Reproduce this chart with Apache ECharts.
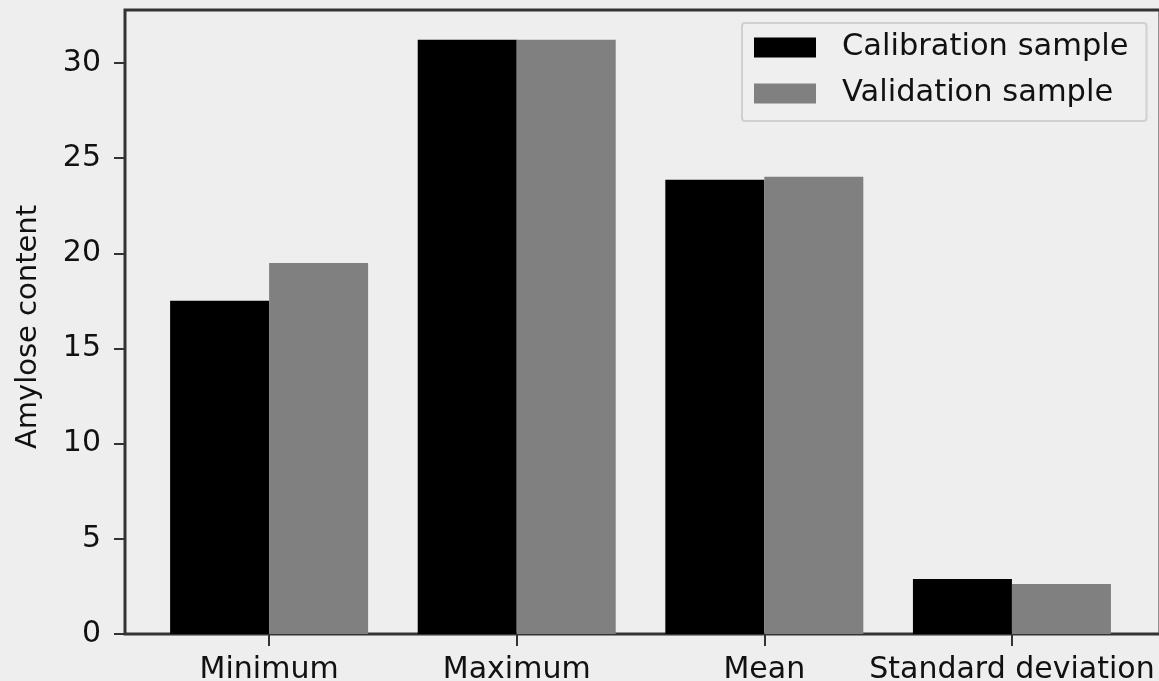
<!DOCTYPE html>
<html>
<head>
<meta charset="utf-8">
<script src="https://cdn.jsdelivr.net/npm/echarts@6/dist/echarts.min.js"></script>
<style>
html,body{margin:0;padding:0;background:#eeeeee;}
#chart{width:1159px;height:681px;}
</style>
</head>
<body>
<div id="chart"></div>
<script>
const categories = ['Minimum', 'Maximum', 'Mean', 'Standard deviation'];
const calibration = [17.51, 31.23, 23.87, 2.89];
const validation = [19.50, 31.23, 24.03, 2.63];
const seriesNames = ['Calibration sample', 'Validation sample'];
const yTicks = [0, 5, 10, 15, 20, 25, 30];
const yAxisName = 'Amylose content';

const catIdx = categories.map((c, i) => i);
const font = 'DejaVu Sans';
const chart = echarts.init(document.getElementById('chart'), null, {renderer: 'canvas'});
chart.setOption({
  backgroundColor: '#eeeeee',
  animation: false,
  textStyle: {fontFamily: font},
  grid: {left: 125, top: 10, width: 1035, bottom: 47, show: true, borderColor: '#333333', borderWidth: 3,
         backgroundColor: 'transparent', containLabel: false, outerBoundsMode: 'none'},
  legend: {
    left: 742, top: 23, orient: 'vertical',
    data: seriesNames,
    icon: 'rect', itemWidth: 62, itemHeight: 20, itemGap: 15,
    padding: [9, 18, 12, 12],
    backgroundColor: '#efefef', borderColor: '#d0d0d0', borderWidth: 2, borderRadius: 3,
    textStyle: {fontFamily: font, fontSize: 30.5, color: '#111', lineHeight: 30, padding: [0, 0, 0, 21]}
  },
  xAxis: {
    type: 'value', min: -0.582, max: 3.598,
    splitLine: {show: false},
    axisLine: {show: false, onZero: false},
    axisTick: {show: true, length: 12, customValues: catIdx, lineStyle: {color: '#333', width: 2}},
    axisLabel: {customValues: catIdx, formatter: v => categories[Math.round(v)], fontFamily: font, fontSize: 30, color: '#111', margin: 21}
  },
  yAxis: {
    type: 'value', min: 0, max: 32.79,
    name: yAxisName, nameLocation: 'middle', nameGap: 82,
    nameTextStyle: {fontFamily: font, fontSize: 29, color: '#111', padding: [0, 10, 0, 0]},
    splitLine: {show: false},
    axisLine: {show: false, onZero: false},
    axisTick: {show: true, length: 11, customValues: yTicks, lineStyle: {color: '#333', width: 2}},
    axisLabel: {customValues: yTicks, fontFamily: font, fontSize: 30, color: '#111', margin: 24}
  },
  series: [
    {name: seriesNames[0], type: 'bar', barWidth: 99, barGap: 0, itemStyle: {color: '#000000'},
     data: calibration.map((v, i) => [catIdx[i], v])},
    {name: seriesNames[1], type: 'bar', barWidth: 99, barGap: 0, itemStyle: {color: '#808080'},
     data: validation.map((v, i) => [catIdx[i], v])}
  ]
});
</script>
</body>
</html>
